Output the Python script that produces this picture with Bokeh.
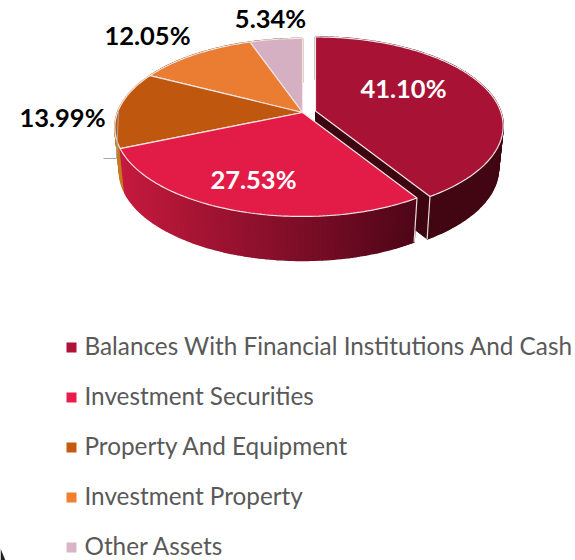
import math
from bokeh.core.properties import value
from bokeh.embed import file_html
from bokeh.models import ColumnDataSource, Range1d
from bokeh.plotting import figure
from bokeh.resources import INLINE

categories = ["Balances With Financial Institutions And Cash", "Investment Securities",
              "Property And Equipment", "Investment Property", "Other Assets"]
shares = [41.10, 27.53, 13.99, 12.05, 5.34]
labels = ["41.10%", "27.53%", "13.99%", "12.05%", "5.34%"]
top_colors = ["#A81234", "#E31C47", "#C0570F", "#EA7D32", "#D4B0C2"]
legend_colors = ["#AE1236", "#E91C4C", "#C55A11", "#F08030", "#D9B3C6"]
label_colors = ["white", "white", "black", "black", "black"]
label_x = [403, 253, 62, 147, 270]
label_y = [87, 178, 116, 34, 17]

CX, CY, R, RY, K, DEPTH = 302, 112, 185, 86.5, 0.168, 44
EXPLODE_X, EXPLODE_Y = 13, -1.5
TAPER = 0.975


def pt(theta, ox=0, oy=0):
    u, v = math.sin(theta), -math.cos(theta)
    s = 1 / (1 - K * v)
    return CX + ox + R * u * s, CY + oy + RY * v * s


def arc(a, b, ox=0, oy=0, step=math.radians(1.0)):
    n = max(2, int((b - a) / step) + 1)
    return [pt(a + (b - a) * i / n, ox, oy) for i in range(n + 1)]


def low(x, ox=0):
    return CX + ox + (x - CX - ox) * TAPER


def mix(c1, c2, t):
    t = max(0, min(1, t))
    return "#%02x%02x%02x" % tuple(round(a + (b - a) * t) for a, b in zip(c1, c2))


p = figure(width=575, height=560, output_backend="svg", toolbar_location=None,
           x_range=Range1d(0, 575), y_range=Range1d(560, 0), min_border=0,
           outline_line_color=None, background_fill_color="white",
           border_fill_color="white")
p.axis.visible = False
p.grid.visible = False

total = sum(shares)
angles = [0]
for s in shares:
    angles.append(angles[-1] + s / total * 2 * math.pi)


def side(i, ox=0, oy=0, depth=DEPTH):
    a, b = angles[i], angles[i + 1]
    rim = arc(a, b, ox, oy)
    xs, ys, cols = [], [], []
    for (x0, y0), (x1, y1) in zip(rim, rim[1:]):
        xs.append([x0, x1, low(x1, ox), low(x0, ox)])
        ys.append([y0, y1, y1 + depth, y0 + depth])
        if i == 0:
            cols.append("#420713")
        elif i == 1:
            cols.append(mix((198, 26, 62), (78, 6, 24), (x0 - 118) / 300))
        elif i == 2:
            cols.append("#C77A20")
        else:
            cols.append("#8A3F0C")
    p.patches(xs, ys, fill_color=cols, line_color=cols, line_width=1.5)


def top(i, ox=0, oy=0):
    rim = arc(angles[i], angles[i + 1], ox, oy)
    xs = [CX + ox] + [q[0] for q in rim]
    ys = [CY + oy] + [q[1] for q in rim]
    p.patch(xs, ys, fill_color=top_colors[i], line_color="#F4E4E4", line_width=1.2)


# exploded slice: rim, inner wall, top
EXPLODE_DEPTH = DEPTH - 1.5
side(0, EXPLODE_X, EXPLODE_Y, EXPLODE_DEPTH)
ex, ey = pt(angles[1], EXPLODE_X, EXPLODE_Y)
p.patch([CX + EXPLODE_X, ex, low(ex, EXPLODE_X), CX + EXPLODE_X],
        [CY + EXPLODE_Y, ey, ey + EXPLODE_DEPTH, CY + EXPLODE_Y + EXPLODE_DEPTH],
        fill_color="#3C0510", line_color="#3C0510")
p.line([ex, low(ex, EXPLODE_X)], [ey, ey + EXPLODE_DEPTH], line_color="#E8DADA", line_width=1.2)
top(0, EXPLODE_X, EXPLODE_Y)

# remaining slices
for i in [4, 3, 2, 1]:
    side(i)
mx, my = pt(angles[1])
p.line([mx, low(mx)], [my, my + DEPTH], line_color="#E8DADA", line_width=1.2)
for i in [4, 3, 2, 1]:
    top(i)

# leader line for 13.99%
p.line([103, 116, 118], [158, 158, 110], line_color="#A6A6A6", line_width=1)

p.text(label_x, label_y, text=labels, text_color=label_colors, text_font=value("Lato"),
       text_font_style="bold", text_font_size="25.5px", text_align="center", text_baseline="middle")

legend_y = [345, 395, 445, 495, 545]
src = ColumnDataSource(dict(x=[71] * 5, y=[y + 2 for y in legend_y], c=legend_colors))
p.scatter("x", "y", source=src, marker="square", size=10, fill_color="c", line_color=None)
p.text([84] * 5, legend_y, text=categories, text_color="#595959", text_font=value("Lato"),
       text_font_size="24.3px", text_align="left", text_baseline="middle")

# corner of the dark frame at the bottom left
p.patch([0, 5, 0], [548, 560, 560], fill_color="#222222", line_color=None)

open("out.html", "w").write(file_html(p, INLINE))
